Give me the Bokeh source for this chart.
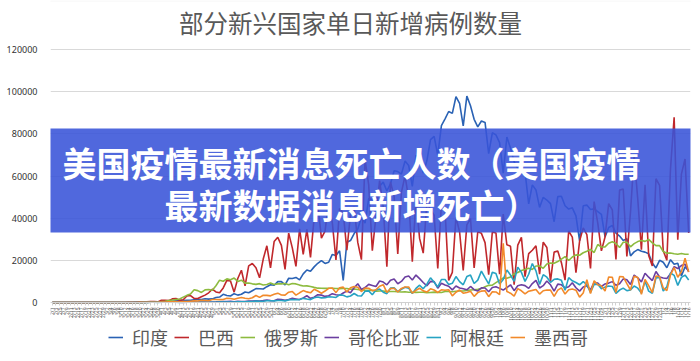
import math
import pandas as pd
from bokeh.plotting import figure
from bokeh.models import (FactorRange, Range1d, FixedTicker, BasicTickFormatter,
                          Legend, LegendItem, BoxAnnotation, Label)
from bokeh.embed import file_html
from bokeh.resources import INLINE

# x categories: every second day, 2020-02-01 .. 2021-01-16
dates = [f"{d.month}/{d.day}" for d in pd.date_range("2020-02-01", periods=176, freq="2D")]

# daily new cases, thousands
india = [0] * 21 + [
    0.02, 0.02, 0.03, 0.05, 0.08, 0.1, 0.09, 0.15, 0.23,
    0.44, 0.48, 0.58, 0.57, 0.8, 0.9, 0.9, 1.0, 1.0, 1.3, 1.5, 1.4, 1.8, 1.6, 1.7,
    2.4, 2.6, 3.9, 3.3, 3.1, 4.2, 3.5, 3.9, 5.0, 4.6, 5.6, 6.6, 6.5, 6.4, 7.5, 8.4,
    8.2, 9.9, 9.9, 8.4, 11.5, 11.4, 11.9, 10.7, 13.6, 15.4, 14.8, 16.9, 18.6, 19.9, 18.5,
    19.1, 22.8, 22.3, 24.5, 10.5, 28.6, 29.4, 32.7, 34.9, 40.4, 37.7, 49.3, 48.7, 47.7, 55.1,
    57.1, 52.9, 56.3, 62.5, 62.1, 60.9, 67.1, 65.0, 55.1, 69.7, 69.9, 61.4, 67.2, 77.3, 78.8, 69.9,
    83.9, 87.1, 90.6, 89.7, 97.6, 94.4, 83.8, 97.9, 93.3, 86.9, 83.3, 86.1, 85.4, 70.6, 80.5,
    79.5, 75.8, 61.3, 78.5, 73.3, 66.7, 63.5, 62.2, 61.9, 46.8, 55.8, 53.4, 45.1, 49.9, 48.6,
    46.9, 38.3, 50.2, 50.4, 45.9, 44.3, 44.9, 41.1, 29.2, 45.9, 46.2, 44.1, 44.4, 43.1, 41.8,
    31.1, 35.6, 36.6, 32.9, 31.5, 29.4, 30.3, 22.1, 24.0, 25.1, 24.3, 23.9, 23.1, 18.7, 16.4, 20.0,
    19.1, 16.5, 20.3, 18.1, 18.6, 12.6, 16.9, 15.1]

brazil = [0] * 20 + [
    0.03, 0.05, 0.05, 0.1, 0.3, 0.35, 0.35, 0.5, 0.5, 0.3,
    1.1, 1.1, 0.9, 1.7, 1.9, 1.1, 1.3, 3.1, 3.3, 1.9, 1.9, 2.7, 3.5, 4.6, 6.3,
    5.0, 4.6, 6.9, 10.5, 10.2, 4.9, 11.4, 15.3, 7.9, 17.4, 18.5, 16.5, 11.7, 20.6, 26.9, 16.4,
    28.9, 30.9, 27.1, 15.7, 32.9, 25.9, 17.1, 34.9, 22.8, 34.7, 21.4, 40.0, 46.9, 30.5, 33.8,
    48.1, 37.9, 20.2, 44.6, 42.6, 24.8, 41.9, 45.4, 28.5, 20.3, 67.8, 55.9, 24.6, 40.8, 57.8,
    45.4, 17.0, 57.2, 50.2, 23.0, 52.2, 60.1, 49.3, 19.4, 49.3, 30.4, 23.4, 47.1, 44.2, 41.4, 16.2,
    46.9, 43.8, 10.5, 14.3, 40.6, 33.5, 15.2, 36.8, 39.8, 16.4, 33.5, 32.8, 28.4, 13.2, 33.4,
    33.0, 13.4, 41.9, 27.4, 26.7, 8.4, 27.2, 30.9, 12.3, 23.2, 24.8, 26.9, 13.5, 28.6, 26.1,
    10.1, 23.9, 24.4, 18.9, 10.6, 33.9, 31.0, 14.1, 29.1, 35.4, 32.2, 16.2, 47.9, 37.6, 24.5,
    31.1, 46.9, 43.9, 20.4, 53.3, 53.8, 21.8, 42.9, 69.8, 49.0, 25.0, 55.8, 22.3, 17.3, 58.7, 55.6,
    24.6, 20.0, 63.4, 87.8, 29.8, 60.9, 68.1, 33.0]

russia = [0] * 22 + [
    0.03, 0.05, 0.05, 0.07, 0.07, 0.18, 0.23, 0.3,
    0.44, 0.6, 0.95, 1.15, 1.46, 1.67, 2.56, 3.39, 4.07, 6.06, 5.64, 4.77, 5.97, 6.2, 5.84,
    7.93, 10.6, 10.1, 11.2, 10.8, 11.6, 10.0, 10.6, 9.2, 9.26, 8.85, 8.6, 8.95, 8.3, 8.57, 9.27,
    8.54, 8.83, 8.85, 8.98, 8.4, 8.99, 8.83, 8.25, 7.79, 7.89, 7.6, 7.18, 6.8, 6.79, 6.69,
    6.76, 6.74, 6.61, 6.56, 6.63, 6.61, 6.25, 6.43, 6.17, 5.94, 5.85, 5.81, 5.76, 5.39, 5.48,
    5.46, 5.16, 5.2, 5.21, 5.1, 4.95, 5.07, 4.84, 4.84, 4.79, 4.87, 4.85, 4.68, 4.71, 4.94, 4.73,
    4.73, 5.2, 5.19, 5.1, 5.36, 5.44, 5.45, 5.67, 5.9, 6.07, 6.22, 6.6, 7.52, 8.13, 8.23,
    9.41, 10.5, 11.6, 11.5, 12.1, 13.6, 14.2, 15.2, 15.7, 16.3, 15.7, 17.3, 17.3, 16.2, 18.3,
    18.7, 18.6, 19.4, 20.6, 21.8, 19.9, 21.6, 22.6, 22.4, 23.6, 24.3, 25.2, 23.7, 27.5, 26.3,
    26.4, 28.1, 28.8, 28.0, 26.1, 28.6, 28.6, 26.4, 27.9, 28.9, 29.4, 29.0, 29.9, 28.3, 27.0, 27.0,
    24.2, 23.4, 23.5, 23.1, 22.9, 23.2, 22.9, 22.9]

colombia = [0] * 20 + [
    0.01, 0.02, 0.02, 0.04, 0.05, 0.05, 0.07, 0.1, 0.1, 0.1,
    0.1, 0.14, 0.1, 0.15, 0.18, 0.1, 0.08, 0.13, 0.2, 0.18, 0.2, 0.24, 0.25, 0.22, 0.27,
    0.28, 0.3, 0.4, 0.47, 0.6, 0.39, 0.55, 0.42, 0.4, 0.65, 0.7, 0.8, 0.7, 0.9, 1.2, 0.9,
    0.8, 1.5, 1.4, 1.0, 1.4, 2.0, 1.7, 1.4, 2.2, 3.2, 2.0, 2.5, 3.7, 3.5, 2.9,
    3.2, 4.2, 3.7, 3.4, 4.5, 5.4, 4.6, 7.0, 8.9, 6.2, 7.1, 8.6, 8.1, 7.6, 10.2,
    9.7, 8.4, 10.5, 11.1, 8.9, 10.0, 12.1, 12.6, 10.7, 13.0, 11.3, 9.5, 7.9, 10.0, 9.9, 6.8,
    9.1, 8.3, 7.7, 6.0, 7.8, 6.9, 6.5, 6.0, 7.6, 6.1, 5.4, 7.0, 6.9, 5.1, 7.1,
    7.5, 6.7, 5.9, 7.1, 8.4, 5.6, 7.9, 8.4, 8.0, 6.7, 9.0, 10.5, 6.9, 8.0, 10.2,
    8.4, 5.4, 8.7, 8.4, 6.9, 7.5, 9.4, 7.0, 5.4, 7.4, 7.9, 6.0, 9.5, 9.2, 7.6,
    8.8, 9.2, 9.9, 8.2, 8.9, 11.2, 10.8, 8.5, 13.0, 11.7, 9.8, 13.9, 12.0, 10.4, 14.7, 12.1,
    11.6, 11.4, 13.6, 17.0, 16.1, 17.5, 18.2, 14.5]

argentina = [0] * 19 + [
    0.01, 0.01, 0.01, 0.01, 0.02, 0.03, 0.07, 0.05, 0.09, 0.1, 0.07,
    0.1, 0.1, 0.12, 0.1, 0.1, 0.08, 0.1, 0.15, 0.1, 0.1, 0.13, 0.1, 0.11, 0.11, 0.14,
    0.11, 0.16, 0.18, 0.24, 0.27, 0.24, 0.29, 0.34, 0.3, 0.47, 0.44, 0.72, 0.55, 0.6, 0.8, 0.8,
    0.75, 0.93, 0.95, 0.78, 1.23, 1.39, 1.28, 1.37, 1.96, 1.63, 1.37, 2.28, 2.6, 2.19, 2.26,
    2.74, 2.6, 2.4, 3.6, 3.45, 2.66, 3.1, 4.25, 3.23, 3.06, 5.3, 5.5, 3.7, 5.9, 6.4,
    4.9, 4.2, 6.8, 7.0, 5.2, 6.3, 7.2, 6.8, 4.3, 6.7, 8.2, 6.5, 8.7, 11.7, 9.6, 7.4,
    10.9, 10.9, 8.5, 9.1, 12.3, 9.9, 8.4, 12.3, 13.0, 9.0, 10.6, 14.9, 11.8, 8.8, 14.4,
    13.8, 8.8, 10.9, 15.4, 13.0, 10.0, 16.8, 14.3, 10.0, 13.4, 18.5, 15.0, 8.6, 13.2, 12.0,
    9.6, 11.0, 11.2, 10.5, 5.8, 11.8, 10.3, 9.5, 8.4, 9.9, 8.5, 4.8, 8.6, 8.7, 6.5,
    7.3, 7.8, 7.6, 4.3, 5.9, 6.8, 5.6, 6.0, 7.8, 6.8, 4.5, 10.1, 5.4, 4.4, 11.7, 11.9,
    5.4, 7.5, 14.0, 12.9, 8.1, 11.9, 13.0, 10.7]

mexico = [0] * 21 + [
    0.01, 0.02, 0.03, 0.04, 0.05, 0.1, 0.1, 0.13, 0.13,
    0.16, 0.18, 0.3, 0.33, 0.4, 0.26, 0.44, 0.43, 0.62, 0.76, 0.73, 1.04, 0.97, 0.85, 1.39,
    1.43, 1.35, 1.43, 1.98, 1.91, 1.56, 1.99, 2.41, 1.99, 1.77, 2.25, 3.33, 2.41, 3.46, 3.38, 3.15,
    3.89, 4.44, 3.59, 3.48, 4.88, 5.22, 3.49, 4.6, 5.66, 5.03, 4.58, 6.29, 5.44, 4.41, 5.43,
    6.74, 6.91, 4.68, 6.99, 7.28, 4.93, 7.05, 7.62, 7.26, 5.17, 6.86, 6.75, 5.61, 6.05, 7.73,
    8.46, 4.77, 6.59, 6.78, 5.0, 6.69, 7.37, 7.37, 4.45, 5.79, 6.76, 5.51, 4.93, 6.48, 5.93, 4.76,
    6.03, 5.82, 6.06, 3.16, 4.86, 5.93, 4.41, 4.77, 5.31, 2.92, 4.68, 5.41, 5.57, 2.75, 5.05,
    5.0, 3.71, 28.1, 5.18, 4.42, 3.0, 6.56, 5.55, 4.07, 5.37, 5.76, 6.16, 3.98, 5.59, 5.94,
    5.89, 2.9, 5.86, 6.94, 4.01, 6.05, 6.4, 5.86, 2.54, 4.47, 10.8, 4.3, 10.3, 8.4, 7.9,
    5.45, 12.1, 11.97, 4.77, 12.3, 12.2, 9.0, 5.93, 12.5, 11.9, 3.9, 10.9, 8.0, 4.7, 12.6, 12.2,
    6.9, 5.6, 13.1, 16.6, 12.0, 14.6, 21.0, 14.5]

series_names = ["印度", "巴西", "俄罗斯", "哥伦比亚", "阿根廷", "墨西哥"]
series_values = [india, brazil, russia, colombia, argentina, mexico]
series_colors = ["#2a62b4", "#c0282c", "#8dbb3f", "#6b3fa0", "#27a3c3", "#f28a2b"]
y_tick_values = [0, 20000, 40000, 60000, 80000, 100000, 120000]

title_text = "部分新兴国家单日新增病例数量"
banner_lines = ["美国疫情最新消息死亡人数（美国疫情", "最新数据消息新增死亡）"]

for v in series_values:
    assert len(v) == len(dates), len(v)

CJK = "Noto Sans CJK SC"

# The plotting frame covers the whole height of the canvas (so that the title,
# legend and banner, drawn inside it, are not clipped). 0 sits 302px from the
# top and 120000 sits 49px from the top of a 361px tall frame.
H = 361
Y0_PX, YTOP_PX = 302, 49
per_px = 120000 / (Y0_PX - YTOP_PX)
y_lo = -(H - Y0_PX) * per_px
y_hi = 120000 + YTOP_PX * per_px

p = figure(width=700, height=H,
           x_range=FactorRange(factors=dates, range_padding=0),
           y_range=Range1d(y_lo, y_hi),
           output_backend="svg", toolbar_location=None,
           min_border_left=50, min_border_right=10,
           min_border_top=0, min_border_bottom=0)
p.title.text = ""
p.title.visible = False
p.background_fill_color = "white"
p.border_fill_color = "white"
p.outline_line_color = None

items = []
for name, vals, col in zip(series_names, series_values, series_colors):
    r = p.line(x=dates, y=[v * 1000 for v in vals], line_color=col, line_width=1.6)
    items.append(LegendItem(label=name, renderers=[r]))

# axes
p.yaxis.ticker = FixedTicker(ticks=y_tick_values)
p.yaxis.formatter = BasicTickFormatter(use_scientific=False)
p.yaxis.axis_line_color = None
p.yaxis.major_tick_line_color = None
p.yaxis.minor_tick_line_color = None
p.yaxis.major_label_text_font = "Noto Sans"
p.yaxis.major_label_text_font_size = "9px"
p.yaxis.major_label_text_color = "#333333"
p.yaxis.major_label_standoff = 7

p.xaxis.fixed_location = 0
p.xaxis.major_label_orientation = math.pi / 2
p.xaxis.major_label_text_font = "Noto Sans"
p.xaxis.major_label_text_font_size = "5px"
p.xaxis.major_label_text_color = "#555555"
p.xaxis.axis_line_color = "#d0d0d0"
p.xaxis.major_tick_line_color = "#d0d0d0"
p.xaxis.major_tick_out = 3
p.xaxis.major_tick_in = 0
p.xaxis.major_label_standoff = 2

p.xgrid.grid_line_color = None
p.ygrid.grid_line_color = "#d9d9d9"

# legend at the bottom (inside the frame)
leg = Legend(items=items, orientation="horizontal", location=(58, 11),
             label_text_font=CJK, label_text_font_size="18px", label_text_color="#595959",
             glyph_width=15, glyph_height=18, label_height=18, label_standoff=9, spacing=6,
             padding=0, margin=0, border_line_alpha=0, background_fill_alpha=0)
p.add_layout(leg)

# title
p.add_layout(Label(x=350, y=22, x_units="canvas", y_units="canvas", text=title_text,
                   text_align="center", text_baseline="middle", text_font=CJK,
                   text_font_size="24.5px", text_color="#595959"))

# banner overlay
p.add_layout(BoxAnnotation(left=0, right=700, top=128, bottom=232,
                           left_units="canvas", right_units="canvas",
                           top_units="canvas", bottom_units="canvas",
                           fill_color="#3853d8", fill_alpha=0.88, line_alpha=0,
                           level="overlay"))
for txt, yy in zip(banner_lines, [162, 204]):
    p.add_layout(Label(x=351, y=yy, x_units="canvas", y_units="canvas", text=txt,
                       text_align="center", text_baseline="middle", text_font=CJK,
                       text_font_size="34px", text_font_style="bold", text_color="white",
                       level="overlay"))

# outer border
p.add_layout(BoxAnnotation(left=0.5, right=699.5, top=0.5, bottom=360.5,
                           left_units="canvas", right_units="canvas",
                           top_units="canvas", bottom_units="canvas",
                           fill_alpha=0, line_color="#d9d9d9", line_width=1))

open("out.html", "w").write(file_html(p, INLINE))
